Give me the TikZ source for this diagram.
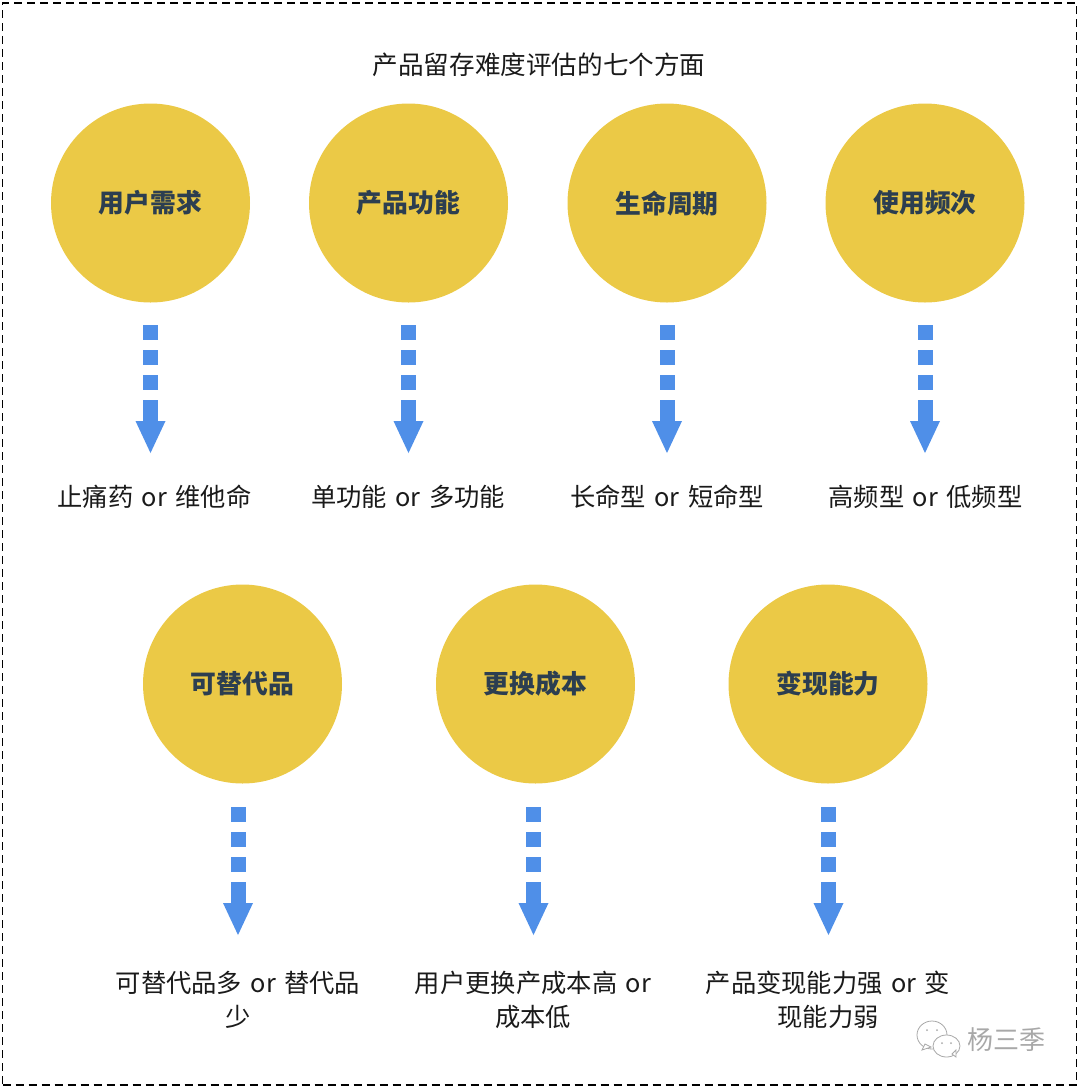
\documentclass[tikz,border=0pt]{standalone}
\usepackage{fontspec}
\setmainfont[WordSpace=1.5]{Noto Sans CJK SC}
\usetikzlibrary{arrows.meta}
\definecolor{circleyellow}{HTML}{EBC946}
\definecolor{flowblue}{HTML}{4F8FE8}
\definecolor{circletext}{HTML}{2C3E50}
\definecolor{labeltext}{HTML}{1A1A1A}
\definecolor{markgray}{HTML}{A8A8A8}
\tikzset{
  aspect/.style={circle, fill=circleyellow, minimum size=199pt, inner sep=0pt, text=circletext, font=\fontsize{25.8}{30}\selectfont\bfseries},
  result/.style={anchor=north, inner sep=0pt, align=center, text=labeltext, font=\fontsize{25.3}{34}\selectfont},
  flow/.style={draw=flowblue, line width=15pt, dash pattern=on 15pt off 10pt on 15pt off 10pt on 15pt off 10pt on 40pt off 10pt, -{Triangle[width=30pt,length=32pt,line width=0pt,fill=flowblue]}}
}
\begin{document}
\begin{tikzpicture}[x=1pt,y=-1pt]
\useasboundingbox (0,0) rectangle (1080,1088);
% Define the nodes
\node (frame) [draw, line width=1.8pt, dash pattern=on 8pt off 5pt, minimum width=1074pt, minimum height=1082pt, inner sep=0pt] at (539.5,544) {};
\node (title) [text=labeltext, font=\fontsize{25.6}{30}\selectfont] at (539,65) {产品留存难度评估的七个方面};

\node (need) [aspect] at (150.5,203) {用户需求};
\node (feature) [aspect] at (408.5,203) {产品功能};
\node (life) [aspect] at (667,203) {生命周期};
\node (freq) [aspect] at (925,203) {使用频次};
\node (subst) [aspect] at (242.5,684) {可替代品};
\node (cost) [aspect] at (535.5,684) {更换成本};
\node (money) [aspect] at (828,684) {变现能力};

\node (needres) [result] at (154.5,485) {止痛药 or 维他命};
\node (featureres) [result] at (408,485) {单功能 or 多功能};
\node (liferes) [result] at (667,485) {长命型 or 短命型};
\node (freqres) [result] at (925.5,485) {高频型 or 低频型};
\node (substres) [result] at (238,971) {可替代品多 or 替代品\\少};
\node (costres) [result] at (533,971) {用户更换产成本高 or\\成本低};
\node (moneyres) [result] at (828,971) {产品变现能力强 or 变\\现能力弱};

% Connect the nodes
\draw[flow] ([yshift=-22.5pt]need.south) -- ([xshift=-4pt,yshift=32pt]needres.north);
\draw[flow] ([yshift=-22.5pt]feature.south) -- ([xshift=0.5pt,yshift=32pt]featureres.north);
\draw[flow] ([yshift=-22.5pt]life.south) -- ([yshift=32pt]liferes.north);
\draw[flow] ([yshift=-22.5pt]freq.south) -- ([xshift=-0.5pt,yshift=32pt]freqres.north);
\draw[flow] ([xshift=-4.5pt,yshift=-23.5pt]subst.south) -- ([yshift=36pt]substres.north);
\draw[flow] ([xshift=-2pt,yshift=-23.5pt]cost.south) -- ([xshift=0.5pt,yshift=36pt]costres.north);
\draw[flow] ([xshift=0.5pt,yshift=-23.5pt]money.south) -- ([xshift=0.5pt,yshift=36pt]moneyres.north);

% Watermark
\draw[markgray, line width=0.8pt, fill=white] (932,1035) ellipse [x radius=15pt, y radius=14pt];
\draw[markgray, line width=0.8pt, fill=white] (922,1050) -- (925,1044) -- (931,1047) -- cycle;
\draw[markgray, line width=0.8pt, fill=white] (946.5,1046) ellipse [x radius=13.5pt, y radius=11pt];
\draw[markgray, line width=0.8pt, fill=white] (952,1054) -- (956,1057) -- (956,1050) -- cycle;
\fill[markgray] (927,1030) circle (1pt) (937,1030) circle (1pt) (942,1043) circle (1pt) (951,1043) circle (1pt);
\node (mark) [text=markgray, font=\fontsize{26}{30}\selectfont] at (1006.5,1040) {杨三季};
\end{tikzpicture}
\end{document}
